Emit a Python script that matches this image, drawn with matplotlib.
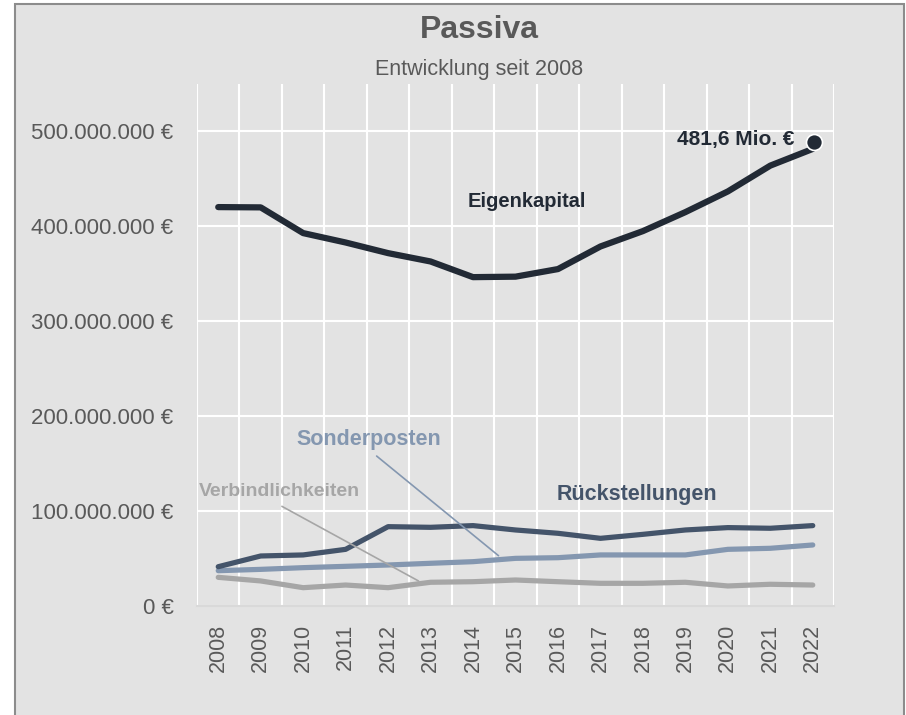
"""
Passiva - Entwicklung seit 2008 (line chart)
"""
import numpy as np
import matplotlib
matplotlib.use("Agg")
import matplotlib.pyplot as plt
from matplotlib.patches import Rectangle
from matplotlib.ticker import FuncFormatter, FixedLocator
from matplotlib.transforms import offset_copy

years = ["2008", "2009", "2010", "2011", "2012", "2013", "2014", "2015",
         "2016", "2017", "2018", "2019", "2020", "2021", "2022"]

# values in Euro
eigenkapital = [420.3e6, 420.0e6, 392.9e6, 383.0e6, 371.8e6, 363.0e6, 346.5e6, 347.0e6,
                355.0e6, 378.8e6, 395.0e6, 415.0e6, 436.8e6, 464.0e6, 481.6e6]
rueckstellungen = [41.4e6, 52.7e6, 53.8e6, 59.7e6, 83.6e6, 82.9e6, 84.7e6, 80.1e6,
                   76.6e6, 71.3e6, 75.5e6, 80.1e6, 82.6e6, 81.9e6, 84.7e6]
sonderposten = [37.2e6, 38.6e6, 40.4e6, 41.8e6, 43.2e6, 45.0e6, 46.7e6, 50.2e6,
                50.9e6, 53.8e6, 53.8e6, 53.8e6, 59.7e6, 60.8e6, 64.3e6]
verbindlichkeiten = [30.2e6, 26.4e6, 19.3e6, 22.1e6, 19.3e6, 25.0e6, 25.6e6, 27.4e6,
                     25.6e6, 23.9e6, 23.9e6, 25.0e6, 21.1e6, 22.9e6, 22.1e6]

last_label = "481,6 Mio. €"

C_EK = "#222a35"
C_RS = "#44546a"
C_SP = "#8497b0"
C_VB = "#a6a6a6"
C_TXT = "#595959"
BG = "#e3e3e3"

plt.rcParams['font.family'] = ['Liberation Sans', 'DejaVu Sans']


def euro_fmt(v, pos):
    return "{:,}".format(int(round(v))).replace(",", ".") + " €"


def main():
    fig = plt.figure(figsize=(9.06, 7.15), dpi=100)
    fig.patch.set_facecolor("white")

    # chart frame (grey area with border, bottom cut off)
    W, H = 906.0, 715.0
    frame = Rectangle((15 / W, -0.05), (904 - 15) / W, 1.05 - 4 / H,
                      transform=fig.transFigure, facecolor=BG,
                      edgecolor="#8c8c8c", linewidth=1.5, zorder=-10)
    fig.add_artist(frame)

    ax = fig.add_axes([197 / W, 1 - 606 / H, (834 - 197) / W, (606 - 84) / H])
    ax.set_zorder(2)
    ax.set_facecolor(BG)
    x = np.arange(len(years))

    ax.plot(x, verbindlichkeiten, color=C_VB, lw=3.75, solid_capstyle="round", zorder=3)
    ax.plot(x, sonderposten, color=C_SP, lw=3.75, solid_capstyle="round", zorder=3)
    ax.plot(x, rueckstellungen, color=C_RS, lw=3.75, solid_capstyle="round", zorder=3)
    ax.plot(x, eigenkapital, color=C_EK, lw=4.5, solid_capstyle="round", zorder=3)
    # end marker sits a little above the line end, like in the original
    mk_trans = offset_copy(ax.transData, fig=fig, x=1, y=7, units="dots")
    ax.plot(x[-1], eigenkapital[-1], "o", color=C_EK, ms=11.5, mec="white", mew=1.2,
            zorder=4, transform=mk_trans)

    ax.set_xlim(-0.5, len(years) - 0.5)
    ax.set_ylim(0, 550e6)

    ax.set_xticks(x)
    ax.set_xticklabels(years, rotation=90, fontsize=15.5, color=C_TXT)
    ax.xaxis.set_minor_locator(FixedLocator(np.arange(-0.5, len(years), 1.0)))
    ax.set_yticks(np.arange(0, 500e6 + 1, 100e6))
    ax.yaxis.set_major_formatter(FuncFormatter(euro_fmt))
    ax.tick_params(axis="y", length=0, pad=17, labelsize=16, labelcolor=C_TXT)
    ax.tick_params(axis="x", which="both", length=0, pad=13)

    ax.grid(True, axis="y", which="major", color="white", lw=1.5, zorder=1)
    ax.grid(True, axis="x", which="minor", color="white", lw=1.5, zorder=1)
    ax.grid(False, axis="x", which="major")
    ax.set_axisbelow(True)
    for s in ["top", "right", "left"]:
        ax.spines[s].set_visible(False)
    ax.spines["bottom"].set_color("#d9d9d9")
    ax.spines["bottom"].set_linewidth(1.5)

    # series labels
    ax.text(7.26, 426e6, "Eigenkapital", color=C_EK, fontsize=14.5, fontweight="bold",
            ha="center", va="center")
    ax.text(13.57, 491e6, last_label, color=C_EK, fontsize=15, fontweight="bold",
            ha="right", va="center")
    ax.text(9.85, 117e6, "Rückstellungen", color=C_RS, fontsize=15.5, fontweight="bold",
            ha="center", va="center")
    ax.text(3.55, 175e6, "Sonderposten", color=C_SP, fontsize=15.5, fontweight="bold",
            ha="center", va="center")
    ax.text(1.43, 121e6, "Verbindlichkeiten", color=C_VB, fontsize=14, fontweight="bold",
            ha="center", va="center")

    # leader lines
    ax.annotate("", xy=(6.6, 53e6), xytext=(3.73, 158e6),
                arrowprops=dict(arrowstyle="-", color=C_SP, lw=1.2,
                                shrinkA=0, shrinkB=0), zorder=5)
    ax.annotate("", xy=(4.715, 26.4e6), xytext=(1.5, 105e6),
                arrowprops=dict(arrowstyle="-", color=C_VB, lw=1.2,
                                shrinkA=0, shrinkB=0), zorder=5)

    fig.text(479 / W, 1 - 30 / H, "Passiva", color=C_TXT, fontsize=23,
             fontweight="bold", ha="center", va="center")
    fig.text(479 / W, 1 - 70 / H, "Entwicklung seit 2008", color=C_TXT, fontsize=15.5,
             ha="center", va="center")

    fig.savefig("out.png", dpi=100, facecolor=fig.get_facecolor())


if __name__ == "__main__":
    main()
